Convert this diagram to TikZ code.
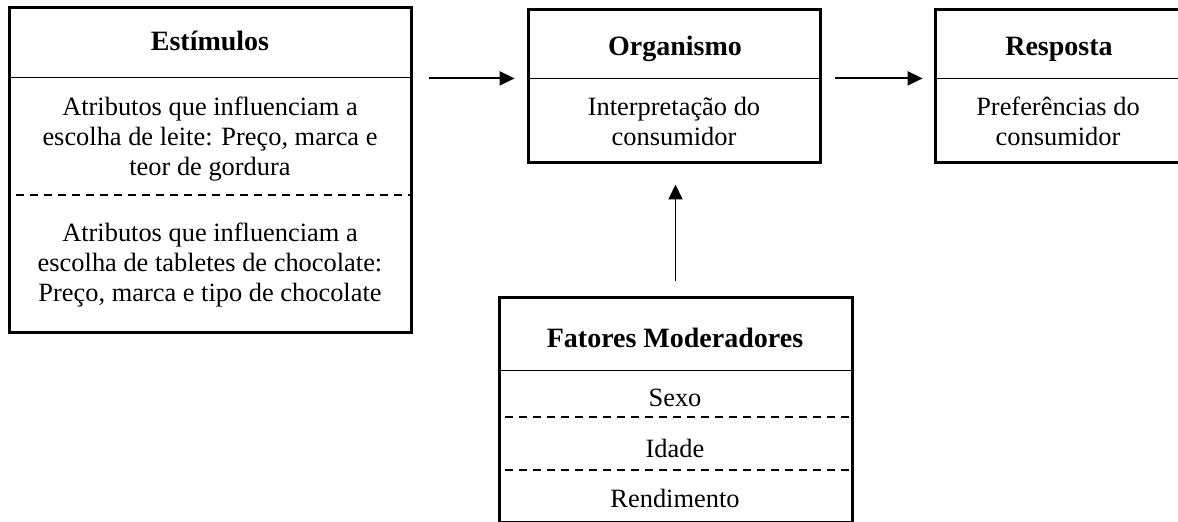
\documentclass[tikz,border=0pt]{standalone}
\usepackage{fontspec}
\setmainfont{Liberation Serif}
\usetikzlibrary{arrows.meta,fit}
\begin{document}
\begin{tikzpicture}[x=0.5pt,y=-0.5pt,
  frame/.style={draw, line width=1.5pt, inner sep=0pt},
  region/.style={inner sep=0pt},
  sep/.style={line width=0.65pt},
  dsep/.style={line width=0.65pt, dash pattern=on 4pt off 3pt},
  head/.style={font=\fontsize{14}{16}\selectfont\bfseries, inner sep=0pt, anchor=base},
  body/.style={font=\fontsize{13.2}{15}\selectfont, align=center, inner sep=0pt, anchor=base},
  arr/.style={line width=0.9pt, -{Triangle[length=7.5pt,width=7pt]}}]
\useasboundingbox (0,0) rectangle (1178,522);
% Estimulos
\node[frame, fit={(9,8) (411,333)}] (est) {};
\node[region, fit={(9,8) (411,77)}] (esth) {};
\coordinate (estd) at (16,195);
\node[head] (estt) at (210,51) {Estímulos};
\node[body] (estb1) at (210,175.5) {Atributos que influenciam a\\escolha de leite: Preço, marca e\\teor de gordura};
\node[body] (estb2) at (210,302) {Atributos que influenciam a\\escolha de tabletes de chocolate:\\Preço, marca e tipo de chocolate};
\draw[sep] (esth.south west) -- (esth.south east);
\draw[dsep] (estd) -- (estd -| est.east);
% Organismo
\node[frame, fit={(528,10) (820,163)}] (org) {};
\node[region, fit={(528,10) (820,78)}] (orgh) {};
\node[head] (orgt) at (675,56) {Organismo};
\node[body] (orgb) at (674,146) {Interpretação do\\consumidor};
\draw[sep] (orgh.south west) -- (orgh.south east);
% Resposta
\node[frame, fit={(935,10) (1182,163)}] (resp) {};
\node[region, fit={(935,10) (1182,78)}] (resph) {};
\node[head] (respt) at (1059,56) {Resposta};
\node[body] (respb) at (1058,146) {Preferências do\\consumidor};
\draw[sep] (resph.south west) -- (resph.south east);
% Fatores
\node[frame, fit={(499,298) (852,522.5)}] (fat) {};
\node[region, fit={(499,298) (852,370)}] (fath) {};
\coordinate (fatd1) at (505,417);
\coordinate (fatd2) at (505,470);
\node[head] (fatt) at (675,347.5) {Fatores Moderadores};
\node[body] (fat1) at (675,406.5) {Sexo};
\node[body] (fat2) at (675,458) {Idade};
\node[body] (fat3) at (675,508) {Rendimento};
\draw[sep] (fath.south west) -- (fath.south east);
\draw[dsep] (fatd1) -- (fatd1 -| fat.east);
\draw[dsep] (fatd2) -- (fatd2 -| fat.east);
% arrows
\draw[arr, shorten <=8pt, shorten >=6.5pt] (est.east |- orgh.south) -- (orgh.south west);
\draw[arr, shorten <=7.5pt, shorten >=6pt] (orgh.south east) -- (resph.south west);
\draw[arr, shorten <=7.5pt, shorten >=10pt] (fat.north) -- (fat.north |- org.south);
\end{tikzpicture}
\end{document}
